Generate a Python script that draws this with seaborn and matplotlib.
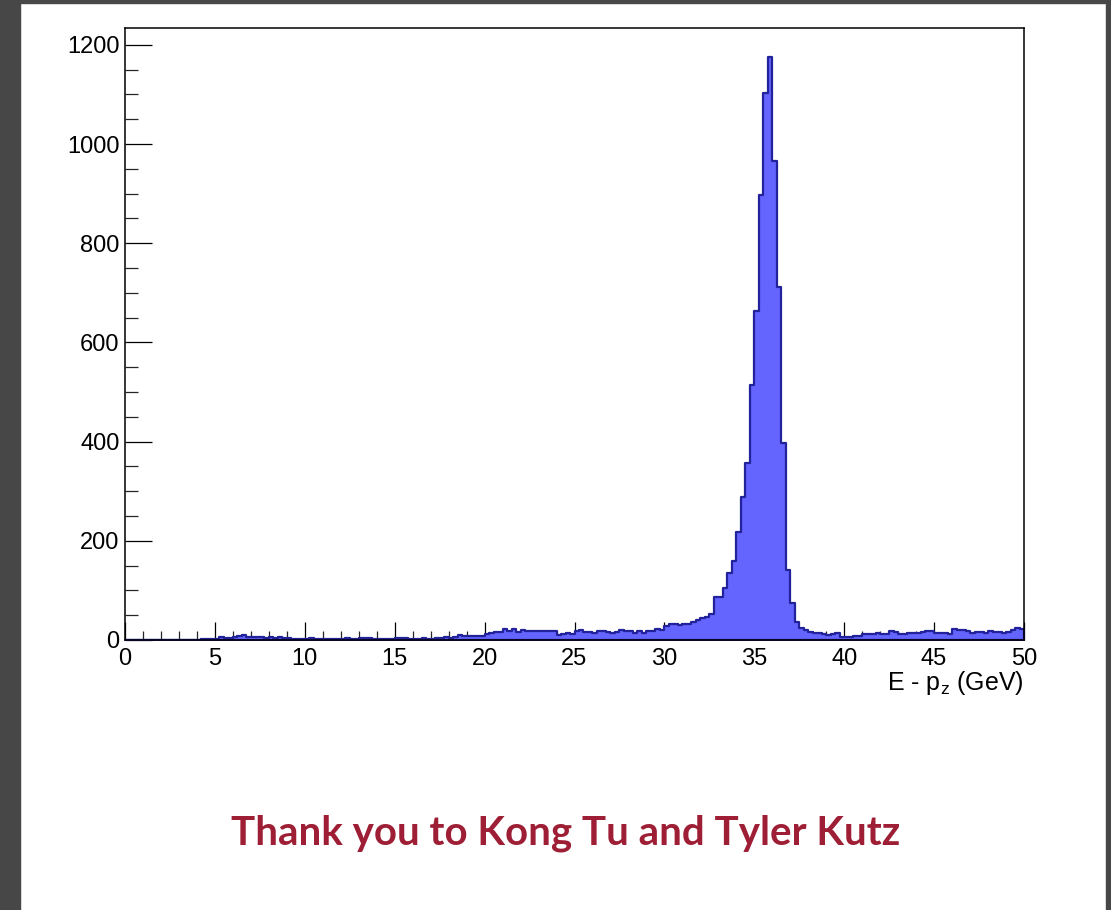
import numpy as np
import pandas as pd
import matplotlib
matplotlib.use("Agg")
import matplotlib.pyplot as plt
import seaborn as sns
from matplotlib.ticker import MultipleLocator

# ---- data: 200 bins of 0.25 GeV from 0 to 50 ----
bin_edges = np.arange(0, 50.0001, 0.25)
counts_0_10 = [0, 0, 0, 0, 0, 0, 0, 0, 0, 0,
               1, 0, 1, 1, 1, 1, 1, 2, 2, 3,
               3, 6, 5, 5, 7, 8, 10, 7, 7, 7,
               6, 5, 6, 5, 6, 5, 4, 3, 3, 3]
counts_10_20 = [3, 5, 3, 3, 3, 2, 3, 3, 3, 4,
                3, 3, 5, 5, 4, 3, 3, 3, 3, 3,
                5, 5, 4, 3, 3, 3, 4, 3, 3, 5,
                5, 6, 5, 7, 10, 8, 9, 8, 8, 9]
counts_20_30 = [12, 14, 16, 16, 23, 18, 22, 16, 20, 19,
                18, 18, 18, 18, 18, 18, 11, 13, 14, 12,
                18, 20, 16, 16, 14, 18, 18, 16, 14, 16,
                20, 18, 18, 14, 18, 14, 18, 18, 23, 20]
counts_30_40 = [29, 32, 32, 30, 32, 32, 36, 40, 45, 47,
                52, 86, 86, 104, 136, 160, 218, 289, 356, 515,
                664, 898, 1102, 1175, 966, 712, 398, 142, 74, 36,
                24, 20, 16, 14, 14, 12, 11, 13, 14, 7]
counts_40_50 = [6, 6, 8, 9, 12, 12, 13, 14, 12, 12,
                18, 16, 12, 13, 14, 14, 15, 16, 18, 18,
                14, 15, 14, 13, 23, 21, 20, 18, 15, 16,
                16, 15, 18, 17, 16, 15, 16, 20, 25, 22]
counts = np.array(counts_0_10 + counts_10_20 + counts_20_30 + counts_30_40 + counts_40_50, dtype=float)
centers = 0.5 * (bin_edges[:-1] + bin_edges[1:])
df = pd.DataFrame({"E_minus_pz": centers, "entries": counts})

x_label = r"E - $\mathregular{p_{z}}$ (GeV)"
footer = "Thank you to Kong Tu and Tyler Kutz"

# ---- style ----
sns.set_theme(style="white")
plt.rcParams["font.family"] = ["Liberation Sans", "DejaVu Sans"]
plt.rcParams["mathtext.fontset"] = "custom"
plt.rcParams["mathtext.rm"] = "Liberation Sans"
plt.rcParams["mathtext.it"] = "Liberation Sans"

W, H = 1111, 910
fig = plt.figure(figsize=(W / 100, H / 100), dpi=100)
fig.patch.set_facecolor("white")

# dark page border (left, right and top strips)
border = "#474747"
fig.add_artist(plt.Rectangle((0, 0), 20 / W, 1, transform=fig.transFigure,
                             color=border, zorder=0))
fig.add_artist(plt.Rectangle((1 - 5 / W, 0), 5 / W, 1, transform=fig.transFigure,
                             color=border, zorder=0))
fig.add_artist(plt.Rectangle((0, 1 - 3 / H), 1, 3 / H, transform=fig.transFigure,
                             color=border, zorder=0))

left, right = 125 / W, 1024 / W
top, bottom = 1 - 28 / H, 1 - 640 / H
ax = fig.add_axes([left, bottom, right - left, top - bottom])

sns.histplot(data=df, x="E_minus_pz", weights="entries",
             binwidth=0.25, binrange=(0, 50),
             element="step", fill=True, color="#6464ff", alpha=1.0,
             edgecolor="#22229a", linewidth=1.6, ax=ax, legend=False)

ax.set_xlim(0, 50)
ax.set_ylim(0, 1234)
ax.set_ylabel("")
ax.set_xlabel("")

ax.xaxis.set_major_locator(MultipleLocator(5))
ax.xaxis.set_minor_locator(MultipleLocator(1))
ax.yaxis.set_major_locator(MultipleLocator(200))
ax.yaxis.set_minor_locator(MultipleLocator(50))

ax.tick_params(axis="x", which="major", direction="in", length=13, width=0.9,
               labelsize=17, pad=6, top=False, bottom=True, colors="black")
ax.tick_params(axis="x", which="minor", direction="in", length=6.5, width=0.9,
               top=False, bottom=True)
ax.tick_params(axis="y", which="major", direction="in", length=19.5, width=0.9,
               labelsize=17, pad=4, right=False, left=True, colors="black")
ax.tick_params(axis="y", which="minor", direction="in", length=9.5, width=0.9,
               right=False, left=True)

for s in ax.spines.values():
    s.set_visible(True)
    s.set_color("black")
    s.set_linewidth(1.1)

ax.text(1.0, -0.048, x_label, transform=ax.transAxes, ha="right", va="top",
        fontsize=18, color="black")

fig.text(566 / W, 1 - 833 / H, footer, ha="center", va="center",
         fontsize=29, fontweight="bold", color="#9e1f35", family=["Lato", "DejaVu Sans"])

fig.savefig("out.png", dpi=100, facecolor="white")
